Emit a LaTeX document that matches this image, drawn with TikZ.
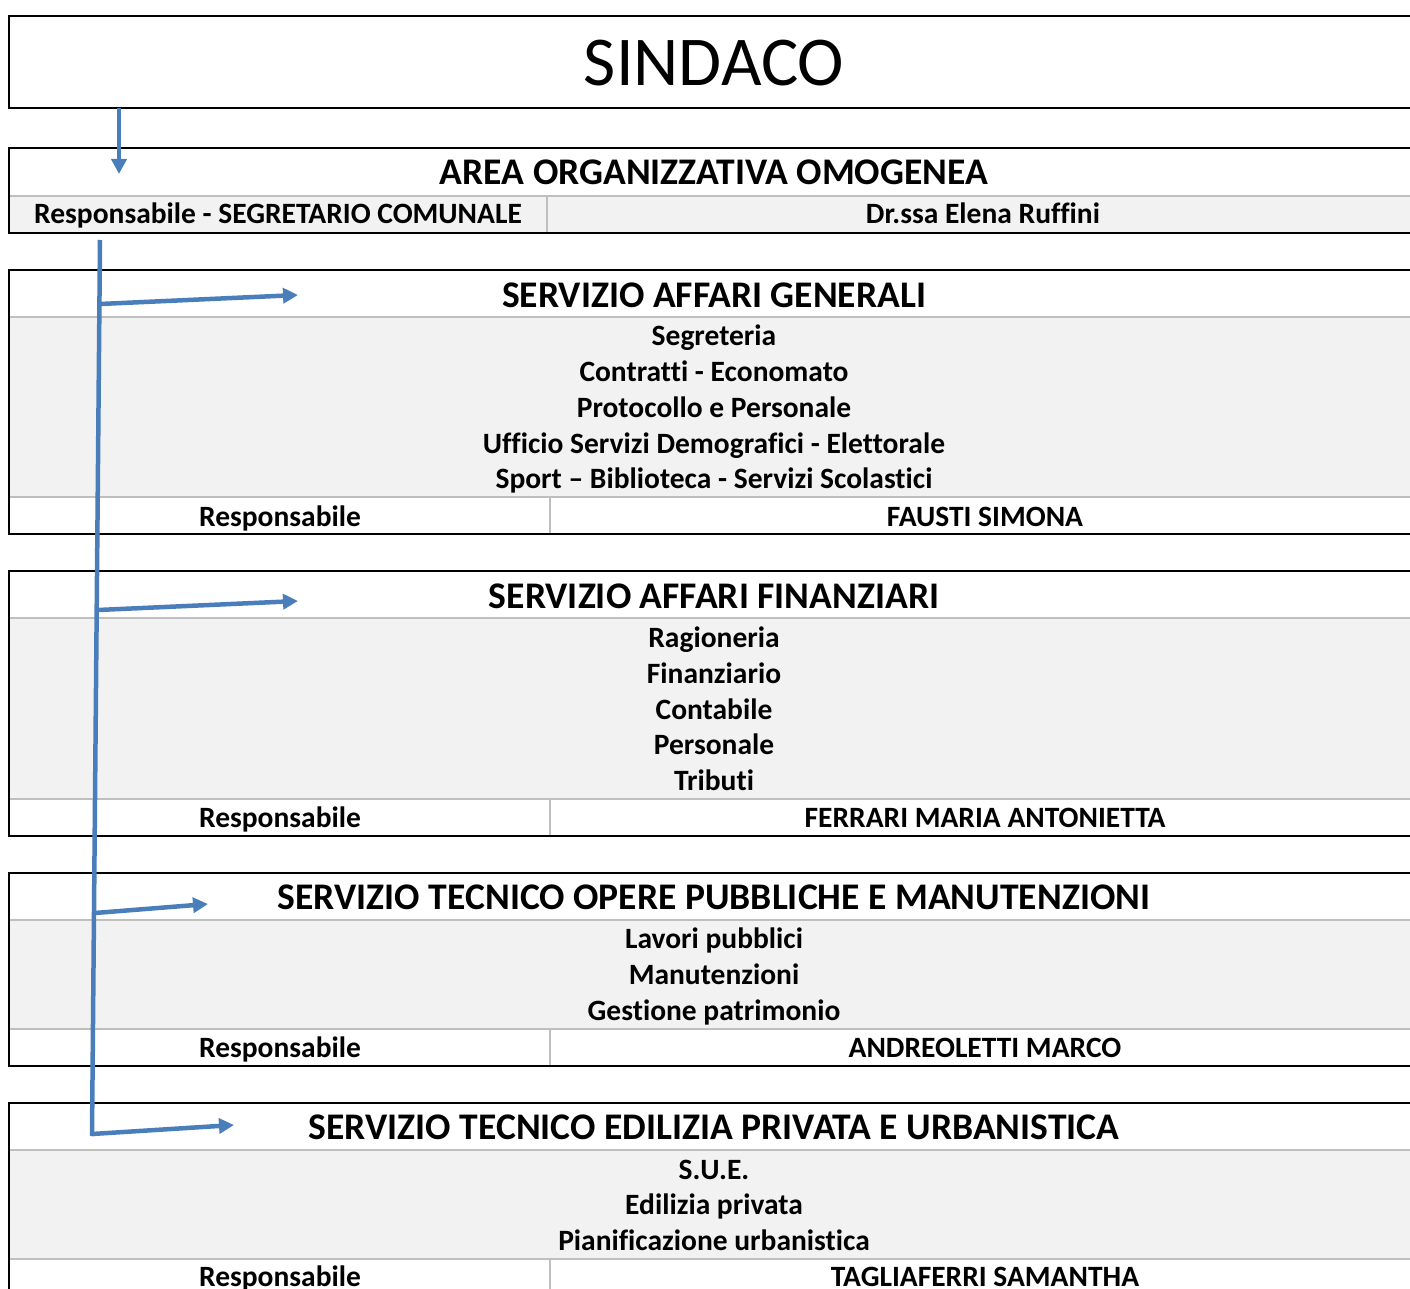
\documentclass[tikz,border=0pt]{standalone}
\usepackage{fontspec}
\setmainfont{Carlito}[Ligatures=NoCommon]
\usetikzlibrary{arrows.meta}
\definecolor{connblue}{RGB}{74,126,187}
\definecolor{cellgray}{RGB}{242,242,242}
\definecolor{gridgray}{RGB}{191,191,191}
\tikzset{
  blk/.style={line width=2.5pt, draw=black},
  grd/.style={line width=2pt, draw=gridgray},
  trunk/.style={line width=4.5pt, draw=connblue},
  branch/.style={line width=4.5pt, draw=connblue, -{Triangle[length=15pt,width=15pt]}},
  item/.style={anchor=base, inner sep=0pt, font=\bfseries\fontsize{29.5}{29.5}\selectfont},
  head/.style={anchor=base, inner sep=0pt, font=\bfseries\fontsize{37.6}{37.6}\selectfont},
  title/.style={anchor=base, inner sep=0pt, font=\fontsize{70}{70}\selectfont},
}
\begin{document}
\begin{tikzpicture}[x=1pt,y=-1pt]
\useasboundingbox (0,0) rectangle (1410,1289);
\begin{scope}
\clip (0,0) rectangle (1410,1289);
\fill[white] (0,0) rectangle (1410,1289);

% SINDACO
\draw[blk] (1412,16) -- (9,16) -- (9,108) -- (1412,108);
\node[title] (sindaco) at (714,86) {SINDACO};

% AREA ORGANIZZATIVA OMOGENEA
\fill[cellgray] (9,196) rectangle (1412,233);
\draw[grd] (9,196) -- (1412,196);
\draw[grd] (547,196) -- (547,233);
\draw[blk] (1412,148) -- (9,148) -- (9,233) -- (1412,233);
\node[head] (aoo) at (714,185) {AREA ORGANIZZATIVA OMOGENEA};
\node[item] (aoor) at (278,224) {Responsabile - SEGRETARIO COMUNALE};
\node[item] (aoon) at (983,224) {Dr.ssa Elena Ruffini};

% SERVIZIO AFFARI GENERALI
\fill[cellgray] (9,317) rectangle (1412,497);
\draw[grd] (9,317) -- (1412,317);
\draw[grd] (9,497) -- (1412,497);
\draw[grd] (550,497) -- (550,534);
\draw[blk] (1412,270) -- (9,270) -- (9,534) -- (1412,534);
\node[head] (sag) at (714,307) {SERVIZIO AFFARI GENERALI};
\node[item] (sag1) at (714,345) {Segreteria};
\node[item] (sag2) at (714,381) {Contratti - Economato};
\node[item] (sag3) at (714,417) {Protocollo e Personale};
\node[item] (sag4) at (714,453) {Ufficio Servizi Demografici - Elettorale};
\node[item] (sag5) at (714,488) {Sport – Biblioteca - Servizi Scolastici};
\node[item] (sagr) at (280,526) {Responsabile};
\node[item] (sagn) at (985,526) {FAUSTI SIMONA};

% SERVIZIO AFFARI FINANZIARI
\fill[cellgray] (9,618) rectangle (1412,799);
\draw[grd] (9,618) -- (1412,618);
\draw[grd] (9,799) -- (1412,799);
\draw[grd] (550,799) -- (550,836);
\draw[blk] (1412,571) -- (9,571) -- (9,836) -- (1412,836);
\node[head] (saf) at (714,608) {SERVIZIO AFFARI FINANZIARI};
\node[item] (saf1) at (714,647) {Ragioneria};
\node[item] (saf2) at (714,683) {Finanziario};
\node[item] (saf3) at (714,719) {Contabile};
\node[item] (saf4) at (714,754) {Personale};
\node[item] (saf5) at (714,790) {Tributi};
\node[item] (safr) at (280,827) {Responsabile};
\node[item] (safn) at (985,827) {FERRARI MARIA ANTONIETTA};

% SERVIZIO TECNICO OPERE PUBBLICHE
\fill[cellgray] (9,920) rectangle (1412,1029);
\draw[grd] (9,920) -- (1412,920);
\draw[grd] (9,1029) -- (1412,1029);
\draw[grd] (550,1029) -- (550,1066);
\draw[blk] (1412,873) -- (9,873) -- (9,1066) -- (1412,1066);
\node[head] (sto) at (714,909) {SERVIZIO TECNICO OPERE PUBBLICHE E MANUTENZIONI};
\node[item] (sto1) at (714,948) {Lavori pubblici};
\node[item] (sto2) at (714,984) {Manutenzioni};
\node[item] (sto3) at (714,1020) {Gestione patrimonio};
\node[item] (stor) at (280,1057) {Responsabile};
\node[item] (ston) at (985,1057) {ANDREOLETTI MARCO};

% SERVIZIO TECNICO EDILIZIA PRIVATA
\fill[cellgray] (9,1150) rectangle (1412,1259);
\draw[grd] (9,1150) -- (1412,1150);
\draw[grd] (9,1259) -- (1412,1259);
\draw[grd] (550,1259) -- (550,1300);
\draw[blk] (1412,1103) -- (9,1103) -- (9,1300);
\node[head] (ste) at (714,1139) {SERVIZIO TECNICO EDILIZIA PRIVATA E URBANISTICA};
\node[item] (ste1) at (714,1179) {S.U.E.};
\node[item] (ste2) at (714,1214) {Edilizia privata};
\node[item] (ste3) at (714,1250) {Pianificazione urbanistica};
\node[item] (ster) at (280,1286) {Responsabile};
\node[item] (sten) at (985,1286) {TAGLIAFERRI SAMANTHA};

% connectors
\coordinate (s0) at (119,108);
\coordinate (s1) at (119,174);
\draw[branch] (s0) -- (s1);

\coordinate (tTop) at (100,240);
\coordinate (tBot) at (92,1136);
\draw[trunk] (tTop) -- (tBot);

\coordinate (b1) at (100,304);
\coordinate (e1) at (298,295);
\coordinate (b2) at (98,610);
\coordinate (e2) at (298,601);
\coordinate (b3) at (95,913);
\coordinate (e3) at (208,904);
\coordinate (b4) at (92,1134);
\coordinate (e4) at (234,1125);
\draw[branch] (b1) -- (e1);
\draw[branch] (b2) -- (e2);
\draw[branch] (b3) -- (e3);
\draw[branch] (b4) -- (e4);
\end{scope}
\end{tikzpicture}
\end{document}
